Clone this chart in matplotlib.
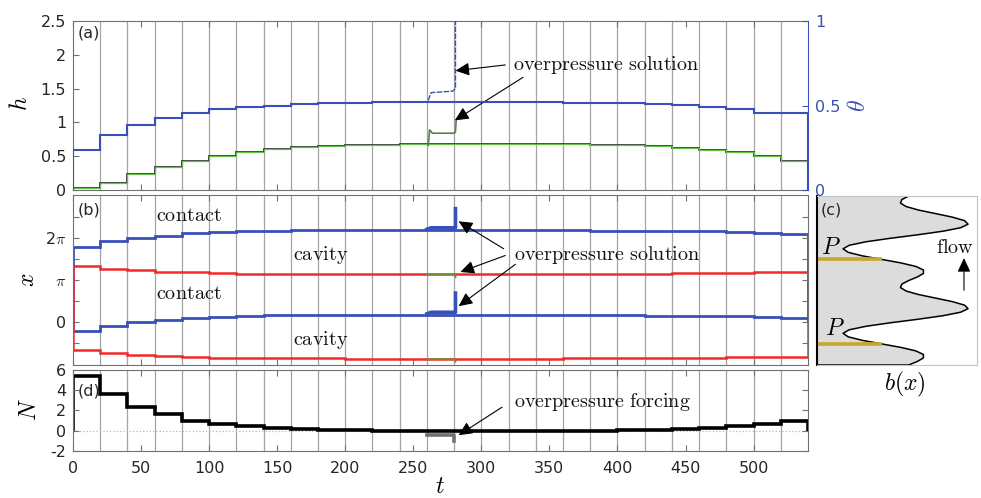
import numpy as np
import matplotlib
matplotlib.use('Agg')
import matplotlib.pyplot as plt

plt.rcParams['mathtext.fontset'] = 'cm'
plt.rcParams['axes.unicode_minus'] = False
plt.rcParams['font.size'] = 11.5

# time axis: forcing changes every 20 time units
t_edges = np.arange(0, 541, 20)

# (a) film height h and contact fraction theta, one level per forcing step
h_steps = [0.025, 0.11, 0.23, 0.345, 0.43, 0.51, 0.56, 0.61, 0.64, 0.655,
           0.665, 0.67, 0.675, 0.68, 0.68, 0.68, 0.68, 0.68, 0.675, 0.67,
           0.66, 0.65, 0.625, 0.597, 0.56, 0.50, 0.43]
theta_steps = [0.236, 0.325, 0.383, 0.424, 0.454, 0.477, 0.489, 0.500, 0.509,
               0.513, 0.516, 0.518, 0.519, 0.520, 0.520, 0.520, 0.519, 0.518,
               0.517, 0.515, 0.512, 0.509, 0.503, 0.491, 0.477, 0.457, 0.454]

# (b) contact / cavity boundary positions (units of pi), repeated every 2 pi
contact_steps = [1.786, 1.918, 1.999, 2.053, 2.101, 2.131, 2.148, 2.164, 2.172,
                 2.175, 2.178, 2.18, 2.18, 2.18, 2.18, 2.18, 2.18, 2.178, 2.175,
                 2.17, 2.165, 2.158, 2.155, 2.148, 2.14, 2.117, 2.093]
cavity_steps = [1.343, 1.272, 1.225, 1.201, 1.178, 1.161, 1.152, 1.147, 1.145,
                1.143, 1.141, 1.14, 1.14, 1.14, 1.14, 1.14, 1.141, 1.142,
                1.143, 1.145, 1.148, 1.152, 1.154, 1.161, 1.17, 1.178, 1.185]

# (d) effective pressure forcing N
N_steps = [5.4, 3.6, 2.3, 1.6, 0.97, 0.68, 0.47, 0.28, 0.15, 0.08, 0.03, 0.0,
           -0.03, -0.05, -0.05, -0.05, -0.05, -0.04, -0.03, 0.0, 0.02, 0.05,
           0.12, 0.22, 0.42, 0.68, 0.97]

# overpressure run between t=260 and t=280
op_t_theta = [261, 263, 279, 281, 281]
op_theta = [0.53, 0.576, 0.585, 0.60, 1.1]
op_t_h = [261, 262, 264, 280, 281, 281.5]
op_h = [0.66, 0.89, 0.84, 0.84, 0.86, 1.03]
op_t_contact = [260, 263, 281, 281]
op_contact = [2.20, 2.236, 2.236, 2.69]
op_t_cavity = [260, 280, 281]
op_cavity = [1.13, 1.13, 1.07]
op_t_N = [260, 280, 280]
op_N = [-0.45, -0.45, -1.0]

# (c) bed profile b(x), one period sampled every 15 degrees from -pi
b_period = [0.555, 0.613, 0.655, 0.655, 0.603, 0.501, 0.369, 0.238, 0.141,
            0.106, 0.148, 0.263, 0.431, 0.619, 0.789, 0.910, 0.960, 0.936,
            0.853, 0.738, 0.623, 0.537, 0.498, 0.508]

blue = '#3850b8'
red = '#f02a2a'
green = '#62c24a'
gray = '#707070'
txt = '#262626'
PI = np.pi

W, H = 981, 498
fig = plt.figure(figsize=(W / 100, H / 100), dpi=100)
ax_a = fig.add_axes([73 / W, 1 - 190 / H, 735 / W, 169 / H])
ax_b = fig.add_axes([73 / W, 1 - 364.5 / H, 735 / W, 169 / H])
ax_d = fig.add_axes([73 / W, 1 - 451 / H, 735 / W, 81.5 / H])
ax_c = fig.add_axes([817 / W, 1 - 365 / H, 160 / W, 169 / H])


def time_axis(ax):
    ax.set_xlim(0, 540)
    ax.set_xticks(np.arange(0, 501, 50))
    for t in t_edges[1:-1]:
        ax.axvline(t, color='#a4a4a4', lw=0.9, zorder=0)
    ax.tick_params(direction='in', top=True, right=True, length=4,
                   color=gray, labelcolor=txt, labelsize=11.5, pad=5)
    for s in ax.spines.values():
        s.set_color(gray)


def arrow(ax, head, tail):
    ax.annotate('', xy=head, xytext=tail,
                arrowprops=dict(arrowstyle='-|>,head_length=0.7,head_width=0.33',
                                color='k', lw=0.8, shrinkA=0, shrinkB=0,
                                mutation_scale=12))


label_kw = dict(fontsize=14.5, color='#111111')

# ---- (a)
time_axis(ax_a)
ax_a.tick_params(right=False, labelbottom=False)
ax_a.set_ylim(0, 2.5)
ax_a.set_yticks([0, 0.5, 1, 1.5, 2, 2.5])
ax_a.set_yticklabels(['0', '0.5', '1', '1.5', '2', '2.5'])
ax_a.stairs(h_steps, t_edges, color='#222222', lw=1.2)
ax_a.stairs(h_steps, t_edges, color=green, lw=0.9)
ax_a.plot(op_t_h, op_h, color='#5a8050', lw=1.2)
ax_a.spines['right'].set_visible(False)
ax_a.text(0.006, 0.93, '(a)', transform=ax_a.transAxes, ha='left', va='center',
          fontsize=11.5, color=txt)

ax_t = ax_a.twinx()
ax_t.set_ylim(0, 1)
ax_t.set_yticks([0, 0.5, 1])
ax_t.set_yticklabels(['0', '0.5', '1'])
ax_t.tick_params(direction='in', length=4, colors=blue, labelsize=11.5, pad=5)
for side in ['left', 'top', 'bottom']:
    ax_t.spines[side].set_visible(False)
ax_t.spines['right'].set_color(blue)
ax_t.stairs(theta_steps, t_edges, color=blue, lw=1.5)
ax_t.plot(op_t_theta, op_theta, color=blue, lw=1.0, ls=(0, (4, 1)))

ax_a.text(323.5, 1.85, r'$\mathrm{overpressure\ solution}$', ha='left',
          va='center', **label_kw)
arrow(ax_a, (281, 1.765), (317.6, 1.85))
arrow(ax_a, (280.5, 1.03), (330.7, 1.667))

# ---- (b)
time_axis(ax_b)
ax_b.tick_params(labelbottom=False)
ax_b.set_ylim(-PI, 3 * PI)
ax_b.set_yticks(np.arange(-0.5, 2.51, 0.5) * PI)
ax_b.set_yticklabels(['', '0', '', r'$\pi$', '', r'2$\pi$', ''])
contact = np.array(contact_steps) * PI
cavity = np.array(cavity_steps) * PI
for shift in [0, -2 * PI]:
    ax_b.stairs(contact + shift, t_edges, color=blue, lw=2.0)
    ax_b.stairs(cavity + shift, t_edges, color=red, lw=1.8)
    ax_b.plot(op_t_contact, np.array(op_contact) * PI + shift, color=blue, lw=2.6)
    ax_b.plot(op_t_cavity, np.array(op_cavity) * PI + shift, color='#7a8a3a', lw=1.4)
ax_b.text(0.006, 0.914, '(b)', transform=ax_b.transAxes, ha='left', va='center',
          fontsize=11.5, color=txt)
for y in [2.53, 0.68]:
    ax_b.text(85, y * PI, r'$\mathrm{contact}$', ha='center', va='center', **label_kw)
for y in [1.60, -0.41]:
    ax_b.text(182, y * PI, r'$\mathrm{cavity}$', ha='center', va='center', **label_kw)
ax_b.text(324, 1.60 * PI, r'$\mathrm{overpressure\ solution}$', ha='left',
          va='center', **label_kw)
arrow(ax_b, (283.3, 2.39 * PI), (316.4, 1.74 * PI))
arrow(ax_b, (284.6, 1.19 * PI), (317.6, 1.58 * PI))
arrow(ax_b, (283.3, 0.38 * PI), (325, 1.37 * PI))

# ---- (d)
time_axis(ax_d)
ax_d.set_ylim(-2, 6)
ax_d.set_yticks([-2, 0, 2, 4, 6])
ax_d.set_yticklabels(['-2', '0', '2', '4', '6'])
ax_d.set_xticklabels([str(v) for v in range(0, 501, 50)])
ax_d.tick_params(axis='x', pad=7)
ax_d.axhline(0, color='#b8b8b8', lw=0.9, ls=':', zorder=0)
ax_d.stairs(N_steps, t_edges, color='k', lw=2.6)
ax_d.plot(op_t_N, op_N, color=gray, lw=2.6)
ax_d.text(0.006, 0.74, '(d)', transform=ax_d.transAxes, ha='left', va='center',
          fontsize=11.5, color=txt)
ax_d.text(324, 2.85, r'$\mathrm{overpressure\ forcing}$', ha='left', va='center',
          **label_kw)
arrow(ax_d, (283.3, -0.45), (315.2, 2.3))

# ---- (c)
x_left = -0.072
b_all = b_period * 2 + [b_period[0]]
v_all = np.arange(-180, 541, 15) / 180 * PI
ax_c.set_xlim(x_left, 1.021)
ax_c.set_ylim(-PI, 3 * PI)
ax_c.fill([x_left] + b_all + [x_left], [-PI] + list(v_all) + [3 * PI],
          facecolor='#dcdcdc', edgecolor='k', lw=1.1, zorder=1,
          joinstyle='round')
ax_c.hlines([-0.5 * PI, 1.5 * PI], x_left, b_period[6], color='#c8a82a', lw=2.6,
            zorder=2)
ax_c.set_xticks([])
ax_c.set_yticks([])
for s in ax_c.spines.values():
    s.set_color('#c4c4c4')
ax_c.spines['left'].set_color('k')
ax_c.spines['left'].set_linewidth(1.5)
ax_c.text(0.02, 0.917, '(c)', transform=ax_c.transAxes, ha='left', va='center',
          fontsize=11.5, color=txt)
ax_c.text(0.022, 1.8 * PI, '$P$', ha='center', va='center', fontsize=17)
ax_c.text(0.05, -0.12 * PI, '$P$', ha='center', va='center', fontsize=17)
ax_c.text(0.871, 1.79 * PI, r'$\mathrm{flow}$', ha='center', va='center', **label_kw)
ax_c.annotate('', xy=(0.932, 1.53 * PI), xytext=(0.932, 0.77 * PI),
              arrowprops=dict(arrowstyle='-|>,head_length=0.7,head_width=0.33',
                              color='k', lw=0.8, shrinkA=0, shrinkB=0,
                              mutation_scale=12))

# axis labels
fig.text(20 / W, 1 - 103 / H, '$h$', rotation=90, ha='center', va='center', fontsize=17)
fig.text(858 / W, 1 - 106 / H, r'$\theta$', rotation=90, ha='center', va='center',
         fontsize=17, color=blue)
fig.text(27.5 / W, 1 - 280 / H, '$x$', rotation=90, ha='center', va='center', fontsize=17)
fig.text(29 / W, 1 - 410 / H, '$N$', rotation=90, ha='center', va='center', fontsize=17)
fig.text(440 / W, 1 - 486 / H, '$t$', ha='center', va='center', fontsize=17)
fig.text(905 / W, 1 - 384 / H, '$b(x)$', ha='center', va='center', fontsize=17)

fig.savefig('out.png', dpi=100)
